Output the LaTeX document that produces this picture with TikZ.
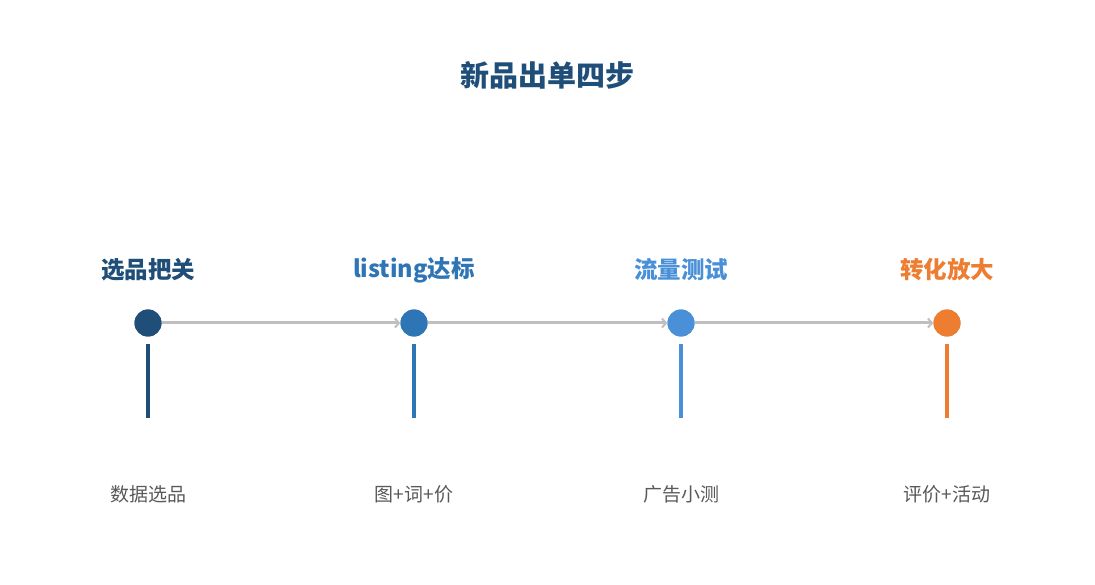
\documentclass[tikz,border=0pt]{standalone}
\usepackage{fontspec}
\setmainfont{Noto Sans CJK SC}
\usetikzlibrary{arrows.meta}
\definecolor{cA}{HTML}{1F4E79}
\definecolor{cB}{HTML}{2E75B6}
\definecolor{cC}{HTML}{4A90D9}
\definecolor{cD}{HTML}{ED7D31}
\definecolor{gline}{HTML}{BFBFBF}
\definecolor{gtext}{HTML}{595959}
\tikzset{
  dot/.style={circle,fill=#1,minimum size=27pt,inner sep=0pt},
  steplabel/.style={text=#1,font=\fontsize{23.5}{27}\selectfont\bfseries,inner sep=0pt},
  desc/.style={text=gtext,font=\fontsize{19}{22}\selectfont,inner sep=0pt},
  stem/.style={draw=#1,line width=3.5pt},
  link/.style={draw=gline,line width=3pt,-{Straight Barb[length=4pt,width=9pt,line width=2pt]}}
}
\begin{document}
\begin{tikzpicture}[x=1pt,y=-1pt]
\useasboundingbox (0,0) rectangle (1095,585);
\fill[white] (0,0) rectangle (1095,585);
\node[text=cA,font=\fontsize{29}{34}\selectfont\bfseries,inner sep=0pt] (title) at (547,75) {新品出单四步};
\node[dot=cA] (d1) at (148,323) {};
\node[dot=cB] (d2) at (414,323) {};
\node[dot=cC] (d3) at (681,323) {};
\node[dot=cD] (d4) at (947,323) {};
\path[link] (d1.east) -- (d2.west);
\path[link] (d2.east) -- (d3.west);
\path[link] (d3.east) -- (d4.west);
\node[dot=cA] at (d1) {};
\node[dot=cB] at (d2) {};
\node[dot=cC] at (d3) {};
\node[dot=cD] at (d4) {};
\node[steplabel=cA] (l1) at (148,270) {选品把关};
\node[steplabel=cB] (l2) at (414,270) {listing达标};
\node[steplabel=cC] (l3) at (681,270) {流量测试};
\node[steplabel=cD] (l4) at (947,270) {转化放大};
\coordinate (s1a) at (148,344); \coordinate (s1b) at (148,418);
\coordinate (s2a) at (414,344); \coordinate (s2b) at (414,418);
\coordinate (s3a) at (681,344); \coordinate (s3b) at (681,418);
\coordinate (s4a) at (947,344); \coordinate (s4b) at (947,418);
\draw[stem=cA] (s1a) -- (s1b);
\draw[stem=cB] (s2a) -- (s2b);
\draw[stem=cC] (s3a) -- (s3b);
\draw[stem=cD] (s4a) -- (s4b);
\node[desc] (t1) at (148,494) {数据选品};
\node[desc] (t2) at (414,494) {图+词+价};
\node[desc] (t3) at (681,494) {广告小测};
\node[desc] (t4) at (947,494) {评价+活动};
\end{tikzpicture}
\end{document}
